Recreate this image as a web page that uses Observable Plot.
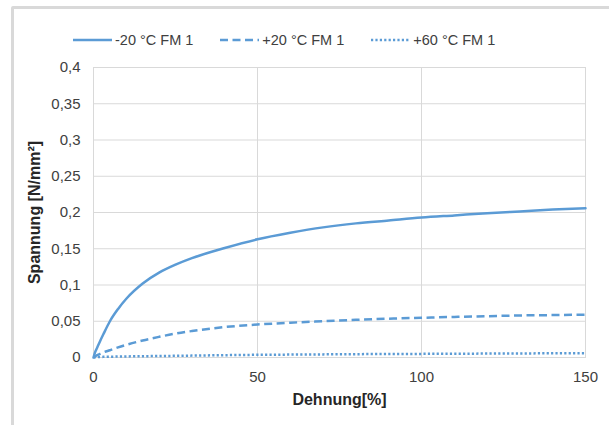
<!DOCTYPE html>
<html>
<head>
<meta charset="utf-8">
<script src="https://cdn.jsdelivr.net/npm/d3@7"></script>
<script src="https://cdn.jsdelivr.net/npm/@observablehq/plot@0.6"></script>
<style>
  html, body { margin: 0; padding: 0; background: #fff; }
  body { width: 609px; height: 425px; overflow: hidden; position: relative; font-family: "Liberation Sans", Arial, sans-serif; }
  #frame { position: absolute; left: 11px; top: 6px; width: 700px; height: 600px; border: 3px solid #d9d9d9; border-radius: 2px; box-sizing: border-box; }
  #chart { position: absolute; left: 0; top: 0; }
  #legend { position: absolute; left: 73px; top: 32px; display: flex; gap: 27px; align-items: center; font-size: 14.5px; color: #404040; }
  .item { display: flex; align-items: center; }
  .item svg { margin-right: 3px; }
</style>
</head>
<body>
<div id="frame"></div>
<div id="chart"></div>
<div id="legend"></div>
<script>
const seriesNames = ["-20 °C FM 1", "+20 °C FM 1", "+60 °C FM 1"];
const strain = [0, 0.5, 1, 2, 3, 5, 7.5, 10, 15, 20, 25, 30, 40, 50, 60, 70, 80, 90, 100, 110, 120, 130, 140, 150];
const stressM20 = [0, 0.0075, 0.0125, 0.0225, 0.032, 0.05, 0.067, 0.081, 0.102, 0.117, 0.128, 0.137, 0.151, 0.163, 0.172, 0.1795, 0.185, 0.189, 0.193, 0.196, 0.199, 0.2015, 0.204, 0.206];
const stressP20 = [0, 0.0015, 0.003, 0.005, 0.007, 0.010, 0.014, 0.0175, 0.0235, 0.0285, 0.033, 0.0365, 0.042, 0.0455, 0.048, 0.050, 0.052, 0.0535, 0.0548, 0.056, 0.057, 0.058, 0.0585, 0.059];
const stressP60 = [0, 0.0003, 0.0005, 0.0007, 0.0009, 0.0011, 0.0013, 0.0015, 0.0018, 0.002, 0.0023, 0.0026, 0.0032, 0.0037, 0.004, 0.0043, 0.0046, 0.0048, 0.005, 0.0052, 0.0054, 0.0056, 0.0058, 0.006];
const xTicks = [0, 50, 100, 150];
const yTicks = [0, 0.05, 0.1, 0.15, 0.2, 0.25, 0.3, 0.35, 0.4];

const color = "#5b9bd5";
const dashes = [null, "8,4.5", "2.2,2.2"];
const allSeries = [stressM20, stressP20, stressP60];

const data = [];
allSeries.forEach((vals, i) => strain.forEach((s, j) => data.push({series: seriesNames[i], x: s, y: vals[j]})));

const fmt = d => String(d).replace(".", ",");

const lineMarks = seriesNames.map((name, i) =>
  Plot.line(data.filter(d => d.series === name), {
    x: "x", y: "y", stroke: color, strokeWidth: 2.5,
    strokeDasharray: dashes[i], curve: "monotone-x", strokeLinecap: i === 0 ? "round" : "butt"
  })
);

const plot = Plot.plot({
  width: 609,
  height: 425,
  marginLeft: 93,
  marginRight: 24,
  marginTop: 67,
  marginBottom: 68,
  style: { fontFamily: "'Liberation Sans', Arial, sans-serif", fontSize: "15px", color: "#404040", background: "transparent", overflow: "visible" },
  x: { domain: [0, 150] },
  y: { domain: [0, 0.4] },
  marks: [
    Plot.gridX(xTicks, { stroke: "#d9d9d9", strokeOpacity: 1 }),
    Plot.gridY(yTicks, { stroke: "#d9d9d9", strokeOpacity: 1 }),
    Plot.frame({ stroke: "#d9d9d9" }),
    Plot.axisX({ ticks: xTicks, tickSize: 0, tickPadding: 14, tickFormat: fmt, label: null, fontSize: 15 }),
    Plot.axisY({ ticks: yTicks, tickSize: 0, tickPadding: 13, tickFormat: fmt, label: null, fontSize: 15 }),
    Plot.axisX({ ticks: [], label: "Dehnung[%]", labelArrow: "none", labelAnchor: "center", labelOffset: 47, fontWeight: "bold", fontSize: 16, fill: "#262626" }),
    Plot.axisY({ ticks: [], label: "Spannung [N/mm²]", labelArrow: "none", labelAnchor: "center", labelOffset: 65, fontWeight: "bold", fontSize: 16, fill: "#262626" }),
    ...lineMarks
  ]
});
document.getElementById("chart").appendChild(plot);

const legend = document.getElementById("legend");
seriesNames.forEach((name, i) => {
  const item = document.createElement("div");
  item.className = "item";
  const dash = dashes[i] ? `stroke-dasharray="${dashes[i]}"` : "";
  item.innerHTML = `<svg width="39" height="6"><line x1="0" x2="39" y1="3" y2="3" stroke="${color}" stroke-width="2.5" ${dash}/></svg><span>${name}</span>`;
  legend.appendChild(item);
});
</script>
</body>
</html>
